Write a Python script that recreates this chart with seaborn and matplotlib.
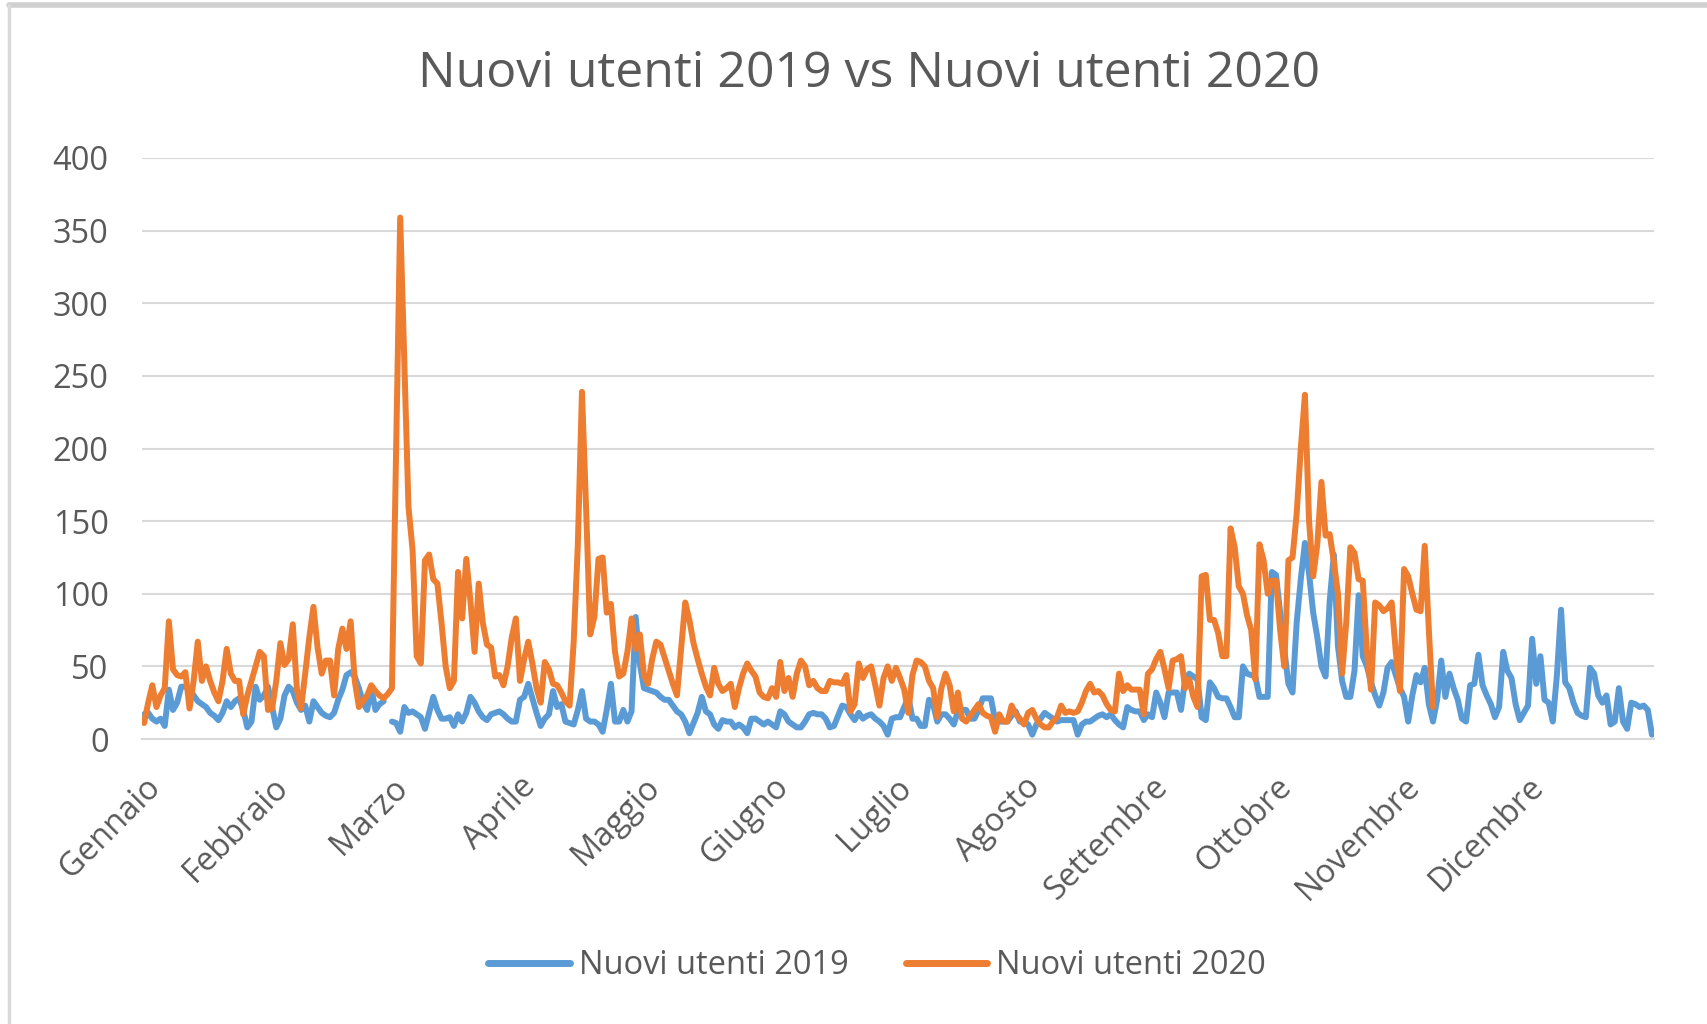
import numpy as np
import pandas as pd
import matplotlib
matplotlib.use('Agg')
import matplotlib.pyplot as plt
import seaborn as sns
from matplotlib.lines import Line2D
from matplotlib.transforms import ScaledTranslation

nan = np.nan

# Mesi e primo giorno di ogni mese (calendario 2020, anno bisestile)
mesi = ['Gennaio', 'Febbraio', 'Marzo', 'Aprile', 'Maggio', 'Giugno',
        'Luglio', 'Agosto', 'Settembre', 'Ottobre', 'Novembre', 'Dicembre']
inizio_mese = [0, 31, 60, 91, 121, 152, 182, 213, 244, 274, 305, 335]

serie = ['Nuovi utenti 2019', 'Nuovi utenti 2020']

# Nuovi utenti giornalieri 2019 (il 29 febbraio non esiste -> nan)
utenti_2019 = [
    17, 18, 14, 12, 14, 9, 34, 20, 25, 36,
    36, 35, 30, 26, 24, 22, 18, 16, 13, 18,
    26, 22, 26, 28, 20, 8, 12, 36, 27, 30,
    36, 22, 8, 14, 30, 36, 33, 25, 20, 23,
    12, 26, 22, 18, 16, 15, 18, 27, 34, 44,
    46, 43, 35, 25, 20, 35, 20, 24, 26, nan,
    12, 11, 5, 22, 18, 19, 17, 15, 7, 18,
    29, 20, 14, 14, 15, 9, 17, 12, 18, 29,
    25, 19, 15, 13, 17, 18, 19, 17, 14, 12,
    12, 27, 29, 38, 28, 18, 9, 14, 17, 33,
    22, 24, 12, 11, 10, 20, 33, 14, 12, 12,
    10, 5, 20, 38, 12, 12, 20, 12, 19, 84,
    52, 35, 34, 33, 32, 29, 27, 27, 23, 19,
    17, 12, 4, 11, 18, 29, 19, 17, 10, 7,
    13, 12, 12, 8, 10, 8, 4, 14, 14, 12,
    10, 12, 10, 8, 19, 17, 12, 10, 8, 8,
    12, 17, 18, 17, 17, 14, 8, 9, 16, 23,
    22, 17, 13, 18, 14, 16, 17, 14, 12, 9,
    3, 14, 15, 15, 22, 29, 14, 14, 9, 9,
    27, 24, 12, 17, 17, 14, 10, 19, 20, 20,
    14, 14, 20, 28, 28, 28, 13, 12, 12, 12,
    16, 19, 12, 12, 10, 3, 10, 14, 18, 16,
    14, 12, 13, 13, 13, 13, 3, 10, 12, 12,
    14, 16, 17, 15, 17, 13, 10, 8, 22, 20,
    19, 19, 13, 17, 15, 32, 25, 15, 32, 32,
    32, 20, 41, 45, 43, 41, 15, 13, 39, 35,
    29, 28, 28, 22, 15, 15, 50, 45, 44, 43,
    29, 29, 29, 115, 113, 87, 62, 38, 32, 80,
    110, 135, 114, 87, 70, 50, 43, 95, 127, 64,
    40, 29, 29, 47, 99, 57, 50, 39, 30, 23,
    32, 49, 53, 44, 35, 29, 12, 30, 44, 39,
    49, 24, 12, 27, 54, 29, 45, 35, 27, 14,
    12, 37, 38, 58, 37, 30, 24, 15, 22, 60,
    47, 42, 24, 13, 18, 23, 69, 38, 57, 27,
    25, 12, 44, 89, 39, 35, 25, 18, 16, 15,
    49, 45, 30, 25, 30, 10, 12, 35, 12, 7,
    25, 24, 22, 23, 20, 3,
]

# Nuovi utenti giornalieri 2020 (dati fino all'inizio di novembre)
utenti_2020 = [
    11, 25, 37, 22, 30, 35, 81, 48, 44, 43,
    46, 21, 40, 67, 40, 50, 40, 32, 26, 40,
    62, 45, 40, 40, 17, 30, 40, 50, 60, 57,
    20, 21, 40, 66, 51, 55, 79, 34, 21, 45,
    70, 91, 63, 45, 54, 54, 30, 62, 76, 62,
    81, 40, 22, 26, 30, 37, 33, 30, 28, 31,
    35, 197, 359, 259, 160, 130, 57, 52, 123, 127,
    110, 107, 80, 50, 35, 40, 115, 83, 124, 95,
    60, 107, 80, 65, 63, 43, 44, 37, 50, 70,
    83, 40, 55, 67, 52, 35, 25, 53, 48, 38,
    37, 32, 26, 23, 67, 134, 239, 159, 72, 84,
    124, 125, 87, 93, 60, 43, 45, 60, 83, 62,
    72, 44, 38, 55, 67, 65, 56, 47, 38, 30,
    62, 94, 82, 66, 55, 45, 36, 30, 49, 38,
    33, 35, 38, 22, 35, 45, 52, 47, 43, 32,
    29, 28, 35, 29, 53, 33, 42, 29, 45, 54,
    50, 37, 40, 35, 33, 33, 40, 39, 39, 38,
    44, 19, 24, 52, 42, 48, 50, 37, 23, 42,
    50, 40, 49, 42, 34, 18, 44, 54, 53, 50,
    40, 35, 15, 35, 45, 37, 19, 32, 14, 12,
    16, 20, 24, 18, 16, 15, 5, 17, 12, 12,
    23, 17, 14, 10, 18, 20, 14, 10, 8, 8,
    12, 15, 23, 18, 19, 18, 19, 25, 33, 38,
    32, 33, 30, 24, 20, 19, 45, 33, 37, 34,
    34, 34, 17, 45, 48, 55, 60, 48, 35, 54,
    55, 57, 35, 41, 29, 22, 112, 113, 82, 82,
    73, 57, 57, 145, 132, 105, 100, 85, 75, 41,
    134, 123, 100, 109, 109, 75, 50, 123, 125, 155,
    200, 237, 150, 112, 134, 177, 140, 141, 122, 100,
    45, 80, 132, 128, 110, 109, 60, 34, 94, 92,
    88, 90, 94, 60, 33, 117, 112, 100, 89, 88,
    133, 75, 22,
]

colori = {'Nuovi utenti 2019': '#5B9BD5', 'Nuovi utenti 2020': '#ED7D31'}
grigio_testo = '#595959'
grigio_linee = '#d9d9d9'

# Build long dataframe, one line segment per run without gaps
n_giorni = 366
giorni = np.arange(n_giorni)
s19 = np.full(n_giorni, np.nan)
s19[:len(utenti_2019)] = utenti_2019[:n_giorni]
s20 = np.full(n_giorni, np.nan)
s20[:len(utenti_2020)] = utenti_2020[:n_giorni]
df = pd.DataFrame({
    'giorno': np.tile(giorni, 2),
    'valore': np.concatenate([s19, s20]),
    'serie': [serie[0]] * n_giorni + [serie[1]] * n_giorni,
})
df['tratto'] = df.groupby('serie')['valore'].transform(lambda v: v.isna().cumsum())
df = df.dropna().reset_index(drop=True)

sns.set_style('white')
plt.rcParams['font.family'] = ['Open Sans', 'DejaVu Sans']

fig = plt.figure(figsize=(17.08, 10.24), dpi=100, facecolor='white')
ax = fig.add_axes([142 / 1708, 1 - 739 / 1024, (1654 - 142) / 1708, (739 - 158) / 1024])

sns.lineplot(
    data=df, x='giorno', y='valore', hue='serie', units='tratto', estimator=None,
    hue_order=serie, palette=colori, linewidth=4.3, legend=False, ax=ax,
    solid_capstyle='round', solid_joinstyle='round'
)

ax.set_xlim(-0.5, n_giorni - 0.5)
ax.set_ylim(0, 400)
ax.set_yticks(range(0, 401, 50))
ax.yaxis.grid(True, color=grigio_linee, linewidth=1.5)
ax.set_axisbelow(True)
for lato in ['top', 'right', 'left']:
    ax.spines[lato].set_visible(False)
ax.spines['bottom'].set_color(grigio_linee)
ax.spines['bottom'].set_linewidth(1.5)
ax.set_xlabel('')
ax.set_ylabel('')

ax.set_xticks(inizio_mese)
ax.set_xticklabels(mesi, rotation=45, ha='right', va='center', rotation_mode='anchor')
ax.set_xticks(np.arange(-0.5, n_giorni, 1), minor=True)
ax.tick_params(axis='x', which='both', length=7, color=grigio_linee, width=0.9,
               labelsize=23.5, labelcolor=grigio_testo, pad=24)
ax.tick_params(axis='y', length=0, labelsize=23.5, labelcolor=grigio_testo, pad=24)
for lbl in ax.get_xticklabels():
    lbl.set_transform(lbl.get_transform() + ScaledTranslation(8 / 72, 0, fig.dpi_scale_trans))

fig.text(869 / 1708, 1 - 74 / 1024, 'Nuovi utenti 2019 vs Nuovi utenti 2020',
         ha='center', va='center', fontsize=36, color=grigio_testo)

maniglie = [Line2D([0], [0], color=colori[s], linewidth=5, solid_capstyle='round') for s in serie]
fig.legend(maniglie, serie, loc='center', bbox_to_anchor=(877 / 1708, 1 - 966 / 1024),
           ncol=2, frameon=False, fontsize=23.5, labelcolor=grigio_testo,
           handlelength=2.5, handletextpad=0.27, columnspacing=1.75)

# Light frame of the chart area (top and left edges)
fig.add_artist(Line2D([9 / 1708, 1], [1 - 5 / 1024, 1 - 5 / 1024], color='#d0d0d0', linewidth=4,
                      transform=fig.transFigure))
fig.add_artist(Line2D([9 / 1708, 9 / 1708], [0, 1 - 5 / 1024], color='#d9d9d9', linewidth=2.5,
                      transform=fig.transFigure))

fig.savefig('out.png', dpi=100, facecolor='white')
